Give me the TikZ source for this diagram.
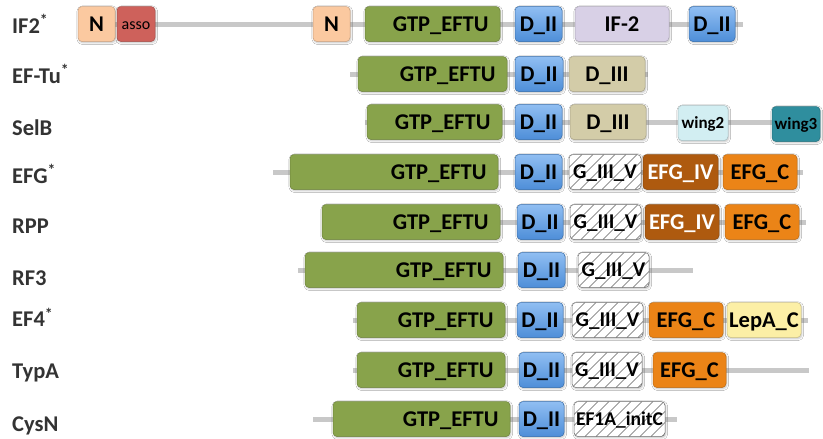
\documentclass[tikz,border=0pt]{standalone}
\usepackage{fontspec}
\setmainfont{Carlito}[BoldFont={Carlito Bold}]
\usetikzlibrary{shadows.blur}
\definecolor{cN}{HTML}{FBC9A0}
\definecolor{cAsso}{HTML}{CE615B}
\definecolor{cGTP}{HTML}{88A34B}
\definecolor{cDtop}{HTML}{90BEF2}
\definecolor{cDbot}{HTML}{4E8ED8}
\definecolor{cIF}{HTML}{D8D0E6}
\definecolor{cD3}{HTML}{D3CCA8}
\definecolor{cW2}{HTML}{D2EEF2}
\definecolor{cW3}{HTML}{2F8E9E}
\definecolor{cIV}{HTML}{AE5A0F}
\definecolor{cC}{HTML}{EB8417}
\definecolor{cLep}{HTML}{FCEFA6}
\definecolor{lineGray}{HTML}{C8C8C8}
\definecolor{labelGray}{HTML}{333333}
\tikzset{
  dom/.style={rounded corners=4pt, inner sep=0pt, minimum height=35pt,
    draw=#1!80!black, fill=#1, line width=0.5pt, text=black,
    font=\fontsize{22.5}{24}\selectfont\bfseries, text height=14pt, text depth=0pt,
    blur shadow={shadow xshift=0.8pt, shadow yshift=-1.2pt, shadow blur steps=4, shadow opacity=25}},
  dii/.style={dom=cDbot, top color=cDtop, bottom color=cDbot},
  hatch/.style={dom=white, draw=gray!85!black,
    font=\fontsize{21}{22}\selectfont\bfseries, text height=13.5pt,
    path picture={\foreach \k in {-44,-33,...,100} {\draw[gray!75!black, line width=0.5pt]
      ([xshift=\k pt]path picture bounding box.south west) -- ++(45pt,45pt);}}},
  small/.style={font=\fontsize{17}{19}\selectfont\bfseries, text height=11pt},
  backbone/.style={draw=lineGray, line width=5pt},
  lbl/.style={anchor=base west, font=\fontsize{22.5}{24}\selectfont\bfseries, text=labelGray, inner sep=0pt},
}
\newcommand{\dbox}[6]{%
  \pgfmathsetmacro\dbW{#4-#3}\pgfmathsetmacro\dbX{(#3+#4)/2}%
  \node[#2,minimum width=\dbW pt] (#1) at (\dbX,#5) {#6};}
% GTP box: text set flush right with a fixed right padding
\newcommand{\gbox}[4]{%
  \pgfmathsetmacro\dbT{#3-#2-23}\pgfmathsetmacro\dbW{#3-#2}\pgfmathsetmacro\dbX{(#2+#3)/2}%
  \node[dom=cGTP,text width=\dbT pt,align=right,inner xsep=0pt,
        minimum width=\dbW pt] (#1) at (\dbX,#4) {GTP\_EFTU};}
\begin{document}
\begin{tikzpicture}[x=1pt,y=-1pt]
\fill[white] (0,0) rectangle (823,439);
\useasboundingbox (0,0) rectangle (823,439);

% labels
\node[lbl] (l1) at (12,33.5) {IF2\textsuperscript{*}};
\node[lbl] (l2) at (12,83.5) {EF-Tu\textsuperscript{*}};
\node[lbl] (l3) at (12,135.5) {SelB};
\node[lbl] (l4) at (12,183.5) {EFG\textsuperscript{*}};
\node[lbl] (l5) at (12,233.5) {RPP};
\node[lbl] (l6) at (12,285) {RF3};
\node[lbl] (l7) at (12,326.7) {EF4\textsuperscript{*}};
\node[lbl] (l8) at (12,378) {TypA};
\node[lbl] (l9) at (12,431.7) {CysN};

% backbones
\coordinate (s1) at (90,24);  \coordinate (e1) at (743,24);
\coordinate (s2) at (350,74); \coordinate (e2) at (648,74);
\coordinate (s3) at (365,122); \coordinate (e3) at (815,122);
\coordinate (s4) at (273,172); \coordinate (e4) at (803,172);
\coordinate (s5) at (325,222); \coordinate (e5) at (806,222);
\coordinate (s6) at (298,270); \coordinate (e6) at (693,270);
\coordinate (s7) at (353,320); \coordinate (e7) at (808,320);
\coordinate (s8) at (353,370); \coordinate (e8) at (809,370);
\coordinate (s9) at (313,419); \coordinate (e9) at (677,419);
\foreach \i in {1,...,9} {\draw[backbone] (s\i) -- (e\i);}

% row 1 IF2
\dbox{a1}{dom=cN}{78}{115}{24}{N}
\dbox{a2}{dom=cAsso,font=\fontsize{16}{18}\selectfont,text height=10pt}{117}{155}{24}{asso}
\dbox{a3}{dom=cN}{313}{350}{24}{N}
\gbox{a4}{365}{500}{24}
\dbox{a5}{dii}{515}{562}{24}{D\_II}
\dbox{a6}{dom=cIF}{575}{669}{24}{IF-2}
\dbox{a7}{dii}{689}{735}{24}{D\_II}

% row 2 EF-Tu
\gbox{b1}{358}{507}{74}
\dbox{b2}{dii}{515}{563}{74}{D\_II}
\dbox{b3}{dom=cD3}{569}{645}{74}{D\_III}

% row 3 SelB
\gbox{c1}{367}{502}{122}
\dbox{c2}{dii}{515}{562}{122}{D\_II}
\dbox{c3}{dom=cD3}{570}{646}{122}{D\_III}
\dbox{c4}{dom=cW2,small}{678}{728}{123}{wing2}
\dbox{c5}{dom=cW3,small}{772}{820}{124}{wing3}

% row 4 EFG
\gbox{d1}{290}{498}{172}
\dbox{d2}{dii}{515}{562}{172}{D\_II}
\dbox{d3}{hatch}{569}{641}{172}{G\_III\_V}
\dbox{d4}{dom=cIV,text=white}{643}{718}{172}{EFG\_IV}
\dbox{d5}{dom=cC}{723}{797}{172}{EFG\_C}

% row 5 RPP
\gbox{f1}{322}{500}{222}
\dbox{f2}{dii}{517}{563}{222}{D\_II}
\dbox{f3}{hatch}{570}{641}{222}{G\_III\_V}
\dbox{f4}{dom=cIV,text=white}{645}{719}{222}{EFG\_IV}
\dbox{f5}{dom=cC}{725}{799}{222}{EFG\_C}

% row 6 RF3
\gbox{g1}{305}{503}{270}
\dbox{g2}{dii}{518}{565}{270}{D\_II}
\dbox{g3}{hatch}{578}{649}{270}{G\_III\_V}

% row 7 EF4
\gbox{h1}{357}{505}{320}
\dbox{h2}{dii}{517}{563}{320}{D\_II}
\dbox{h3}{hatch}{572}{643}{320}{G\_III\_V}
\dbox{h4}{dom=cC}{649}{723}{320}{EFG\_C}
\dbox{h5}{dom=cLep}{727}{801}{320}{LepA\_C}

% row 8 TypA
\gbox{k1}{357}{505}{370}
\dbox{k2}{dii}{519}{564}{370}{D\_II}
\dbox{k3}{hatch}{572}{642}{370}{G\_III\_V}
\dbox{k4}{dom=cC}{653}{726}{370}{EFG\_C}

% row 9 CysN
\gbox{m1}{333}{510}{419}
\dbox{m2}{dii}{519}{564}{419}{D\_II}
\dbox{m3}{hatch,font=\fontsize{19.5}{21}\selectfont\bfseries}{574}{665}{419}{EF1A\_initC}
\end{tikzpicture}
\end{document}
